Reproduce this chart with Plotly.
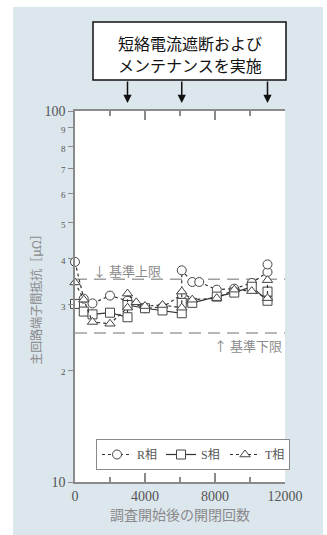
import plotly.graph_objects as go

# ---- data ----
x_R = [0, 500, 1000, 2000, 3000, 4000, 5000, 6100, 6100, 6700, 7100, 8100, 9100, 10100, 11000, 11000]
y_R = [39.2, 31.2, 30.3, 31.8, 30.8, 29.4, 29.6, 32.0, 37.2, 34.6, 34.6, 33.0, 33.2, 34.4, 36.8, 38.6]

x_S = [0, 500, 1000, 2000, 3000, 3000, 4000, 5000, 6100, 6100, 6700, 8100, 9100, 10100, 11000, 11000]
y_S = [30.2, 28.8, 28.3, 28.6, 27.8, 30.0, 29.4, 29.0, 28.5, 30.4, 30.4, 31.6, 32.4, 33.6, 30.8, 32.6]

x_T = [0, 500, 1000, 2000, 3000, 3000, 3500, 4000, 5000, 6100, 6100, 6700, 8100, 9100, 10100, 11000, 11000]
y_T = [34.5, 31.0, 27.0, 26.7, 29.5, 32.2, 30.5, 29.8, 30.0, 29.5, 32.6, 31.0, 31.3, 33.0, 32.7, 31.3, 35.0]

upper_limit = 35.2
lower_limit = 25.2
limit_x = [0, 12000]

event_x = [3000, 6100, 11000]

series_names = ["R相", "S相", "T相"]

y_tickvals = [10, 20, 30, 40, 50, 60, 70, 80, 90, 100]
y_ticktext = ["10", "2", "3", "4", "5", "6", "7", "8", "9", "100"]
x_tickvals = [0, 4000, 8000, 12000]
x_ticktext = ["0", "4000", "8000", "12000"]

# ---- figure ----
W, H = 327, 535
L, R, T, B = 75, 42, 111, 53
pw, ph = W - L - R, H - T - B

def px_x(p):
    return (p - L) / pw

def px_y(p):
    return (H - B - p) / ph

serif = "Liberation Serif, Noto Sans CJK JP, serif"
cjk = "Noto Sans CJK JP, sans-serif"
blue = "#dce6ed"
axgray = "#8a8a8a"
mark = "#444444"

fig = go.Figure()

for yv in [upper_limit, lower_limit]:
    fig.add_trace(go.Scatter(x=limit_x, y=[yv, yv], mode="lines",
                             line=dict(color="#a0a0a0", width=1.5, dash="12px,7px"),
                             showlegend=False, hoverinfo="skip", cliponaxis=True))

styles = [
    (x_R, y_R, "circle", "dot"),
    (x_S, y_S, "square", "solid"),
    (x_T, y_T, "triangle-up", "dot"),
]
for (xs, ys, sym, dash), name in zip(styles, series_names):
    fig.add_trace(go.Scatter(
        x=xs, y=ys, mode="lines+markers", name=name,
        line=dict(color="#333333", width=1.2, dash=dash),
        marker=dict(symbol=sym, size=9, color="white", line=dict(color=mark, width=1)),
        cliponaxis=False))

small = lambda s: f"<span style='font-size:9px'>{s}</span>"
ticktext = [t if t in ("10", "100") else small(t) for t in y_ticktext]

fig.update_yaxes(type="log", range=[1, 2], tickvals=y_tickvals, ticktext=ticktext,
                 ticks="outside", ticklen=5, tickcolor=axgray, tickwidth=1,
                 showline=True, linecolor=axgray, linewidth=1.5, mirror=False,
                 showgrid=False, zeroline=False, automargin=False,
                 tickfont=dict(family=serif, size=14, color="#555"),
                 title=dict(text="主回路端子間抵抗［μΩ］", font=dict(family=cjk, size=12, color="#8a8a8a"),
                            standoff=0))
fig.update_xaxes(range=[0, 12000], tickvals=x_tickvals, ticktext=x_ticktext,
                 ticks="inside", ticklen=9, tickcolor=axgray, tickwidth=1.5,
                 minor=dict(tickvals=[2000, 6000, 10000], ticks="inside", ticklen=5,
                            tickcolor=axgray, tickwidth=1.5),
                 showline=True, linecolor=axgray, linewidth=1.5, mirror="allticks",
                 showgrid=False, zeroline=False, automargin=False,
                 tickfont=dict(family=serif, size=14, color="#555"),
                 title=dict(text="調査開始後の開閉回数", font=dict(family=cjk, size=14, color="#8a8a8a"),
                            standoff=8))

annotations = [
    dict(text="短絡電流遮断および", xref="paper", yref="paper",
         x=px_x(189.5), y=px_y(43), xanchor="center", yanchor="middle",
         showarrow=False, font=dict(family=cjk, size=16, color="#111")),
    dict(text="メンテナンスを実施", xref="paper", yref="paper",
         x=px_x(189.5), y=px_y(65), xanchor="center", yanchor="middle",
         showarrow=False, font=dict(family=cjk, size=16, color="#111")),
    dict(text="↓ 基準上限", xref="paper", yref="paper", x=px_x(91), y=px_y(270),
         xanchor="left", yanchor="middle", showarrow=False,
         font=dict(family=cjk, size=13, color="#8a8a8a")),
    dict(text="↑ 基準下限", xref="paper", yref="paper", x=px_x(212), y=px_y(345),
         xanchor="left", yanchor="middle", showarrow=False,
         font=dict(family=cjk, size=13, color="#8a8a8a")),
]
for ex in event_x:
    annotations.append(dict(text="", x=ex, xref="x", y=px_y(103), yref="paper",
                            showarrow=True, ax=0, ay=-23, arrowhead=2, arrowsize=1.1,
                            arrowwidth=1.5, arrowcolor="#111"))

shapes = [
    dict(type="rect", xref="paper", yref="paper", x0=px_x(-5), x1=px_x(13), y0=px_y(H + 5), y1=px_y(-5),
         fillcolor="white", line=dict(width=0)),
    dict(type="rect", xref="paper", yref="paper", x0=px_x(323), x1=px_x(W + 5), y0=px_y(H + 5), y1=px_y(-5),
         fillcolor="white", line=dict(width=0)),
    dict(type="rect", xref="paper", yref="paper", x0=px_x(-5), x1=px_x(W + 5), y0=px_y(7), y1=px_y(-5),
         fillcolor="white", line=dict(width=0)),
    dict(type="rect", xref="paper", yref="paper", x0=px_x(93), x1=px_x(286), y0=px_y(80), y1=px_y(22),
         fillcolor="white", line=dict(color="#111", width=1.5), layer="below"),
]

fig.update_layout(
    width=W, height=H, margin=dict(l=L, r=R, t=T, b=B),
    paper_bgcolor=blue, plot_bgcolor="white",
    annotations=annotations, shapes=shapes,
    legend=dict(orientation="h", x=px_x(96), y=px_y(439), xanchor="left", yanchor="top",
                bgcolor="white", bordercolor=axgray, borderwidth=1,
                font=dict(family=serif, size=12, color="#555"),
                itemwidth=30, entrywidth=19, tracegroupgap=0),
    showlegend=True,
)

fig.write_html("out.html", config={"displayModeBar": False},
               post_script="document.body.style.margin='0';")
